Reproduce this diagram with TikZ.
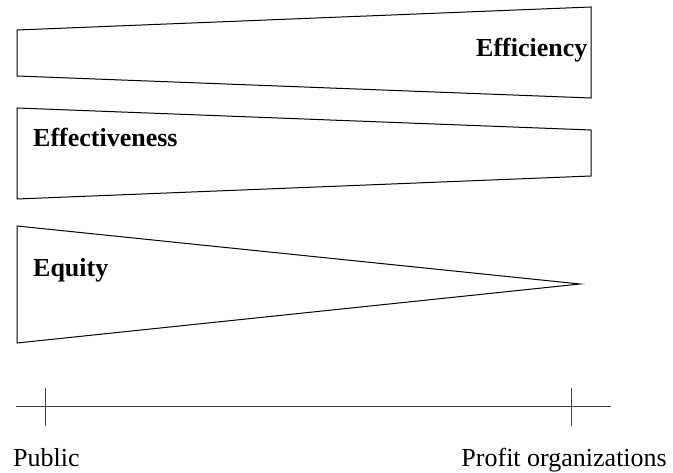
\documentclass[tikz,border=0pt]{standalone}
\usepackage{fontspec}
\setmainfont{Liberation Serif}
\begin{document}
\begin{tikzpicture}[x=1pt,y=-1pt,
  band/.style={draw=black,line width=1pt,line join=miter},
  axisline/.style={draw=black!75,line width=1pt},
  barlabel/.style={inner sep=0pt,anchor=base west,font=\fontsize{26}{30}\selectfont\bfseries},
  endlabel/.style={inner sep=0pt,font=\fontsize{26}{30}\selectfont}]
\useasboundingbox (0,0) rectangle (673,473);

% Efficiency: widening towards profit organizations
\draw[band] (17,30) -- (591,7) -- (591,98) -- (17,76) -- cycle;
\node[barlabel] (eff) at (476,57) {Efficiency};

% Effectiveness: narrowing towards profit organizations
\draw[band] (17,108) -- (591,130) -- (591,176) -- (17,199) -- cycle;
\node[barlabel] (effv) at (33,147) {Effectiveness};

% Equity: vanishing towards profit organizations
\draw[band] (17,226) -- (580,284) -- (17,343) -- cycle;
\node[barlabel] (eq) at (33,277) {Equity};

% Scale from public to profit organizations
\coordinate (axl) at (16,407);
\coordinate (axr) at (611,407);
\coordinate (pub) at (45,407);
\coordinate (prof) at (571,407);
\draw[axisline] (axl) -- (axr);
\draw[axisline] ([yshift=-19pt]pub) -- ([yshift=19pt]pub);
\draw[axisline] ([yshift=-19pt]prof) -- ([yshift=19pt]prof);
\node[endlabel,anchor=base west] (publbl) at (13,467) {Public};
\node[endlabel,anchor=base east] (proflbl) at (667,467) {Profit organizations};
\end{tikzpicture}
\end{document}
